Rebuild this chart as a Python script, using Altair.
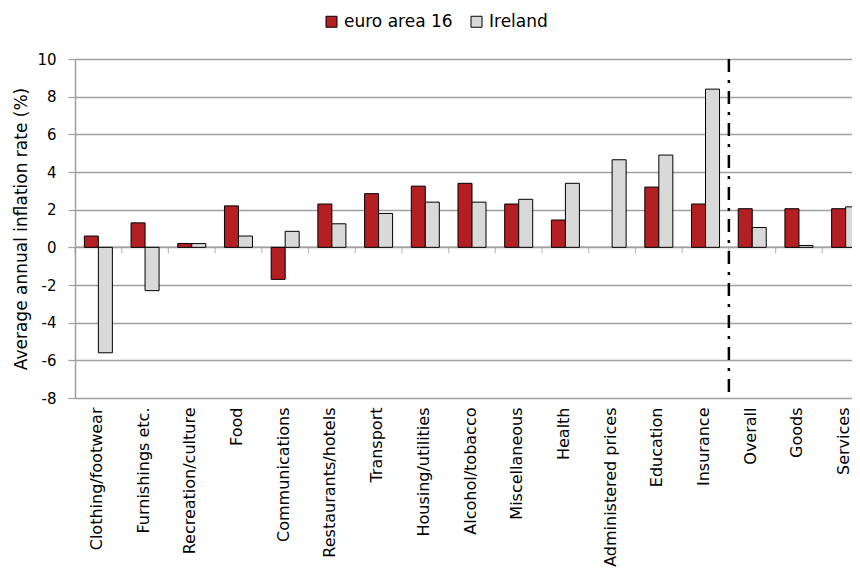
import altair as alt
import pandas as pd

categories = ["Clothing/footwear", "Furnishings etc.", "Recreation/culture", "Food",
              "Communications", "Restaurants/hotels", "Transport", "Housing/utilities",
              "Alcohol/tobacco", "Miscellaneous", "Health", "Administered prices",
              "Education", "Insurance", "Overall", "Goods", "Services"]
series = ["euro area 16", "Ireland"]
euro_area = [0.6, 1.3, 0.2, 2.2, -1.7, 2.3, 2.85, 3.25, 3.4, 2.3, 1.45, None,
             3.2, 2.3, 2.05, 2.05, 2.05]
ireland = [-5.6, -2.3, 0.2, 0.6, 0.85, 1.25, 1.8, 2.4, 2.4, 2.55, 3.4, 4.65,
           4.9, 8.4, 1.05, 0.1, 2.15]
y_ticks = [-8, -6, -4, -2, 0, 2, 4, 6, 8, 10]
divider_at = ["Overall"]

rows = []
for c, e, i in zip(categories, euro_area, ireland):
    if e is not None:
        rows.append({"category": c, "series": series[0], "value": e})
    rows.append({"category": c, "series": series[1], "value": i})
df = pd.DataFrame(rows)

FONT = "DejaVu Sans"
GRAY = "#a0a0a0"
Y_TITLE = "Average annual inflation rate (%)"

# the category scale runs a little past the visible right edge, as in the original
xscale = alt.Scale(domain=categories, paddingInner=0, paddingOuter=0, range=[0, 794])
yscale = alt.Scale(domain=[-8, 10], nice=False)


def y_axis():
    return alt.Axis(values=y_ticks, tickCount=len(y_ticks), labelExpr="'' + datum.value",
                    title=Y_TITLE, grid=True, gridColor=GRAY, gridWidth=1.5, labelOverlap=False,
                    domainColor=GRAY, domainWidth=1.5, tickColor=GRAY, tickSize=7,
                    tickWidth=1.2, labelPadding=12, labelFontSize=15, labelColor="black",
                    labelFont=FONT, titleFont=FONT, titleFontSize=17,
                    titleFontWeight="normal", titleColor="black", titlePadding=6)


def x_axis():
    return alt.Axis(title=None, labelAngle=-90, domain=False, ticks=False, grid=False,
                    labelPadding=9, labelFontSize=16, labelAlign="right", labelOffset=-1.5,
                    labelBaseline="middle", labelColor="black", labelFont=FONT,
                    labelLimit=300, labelOverlap=False)


zero_line = alt.Chart(pd.DataFrame({"z": [0]})).mark_rule(color=GRAY, strokeWidth=1.5).encode(
    y=alt.Y("z:Q", scale=yscale, title=Y_TITLE, axis=y_axis())
)

cat_ticks = alt.Chart(pd.DataFrame({"c": categories, "z": [0] * len(categories)})).mark_tick(
    orient="vertical", size=6, yOffset=3, color=GRAY, thickness=1.2
).encode(
    x=alt.X("c:N", scale=xscale, bandPosition=0, title=None, axis=x_axis()),
    y=alt.Y("z:Q", scale=yscale, title=Y_TITLE, axis=y_axis()),
)

bars = alt.Chart(df).mark_bar(stroke="black", strokeWidth=1).encode(
    x=alt.X("category:N", scale=xscale, title=None, axis=x_axis()),
    xOffset=alt.XOffset("series:N", scale=alt.Scale(domain=series, paddingInner=0, paddingOuter=0.667)),
    y=alt.Y("value:Q", scale=yscale, title=Y_TITLE, axis=y_axis()),
    color=alt.Color("series:N", scale=alt.Scale(domain=series, range=["#b41f24", "#d9d9d9"]),
                    legend=alt.Legend(title=None, orient="none", legendX=248, legendY=-46,
                                      direction="horizontal", symbolType="square",
                                      symbolSize=121, symbolStrokeColor="black",
                                      symbolStrokeWidth=1, labelFontSize=17, labelFont=FONT,
                                      labelColor="black", columnPadding=15, labelOffset=4)),
)

divider = alt.Chart(pd.DataFrame({"c": divider_at})).mark_rule(
    color="black", strokeWidth=2.5, strokeDash=[13, 8, 3, 8]
).encode(
    x=alt.X("c:N", scale=xscale, bandPosition=0, title=None, axis=x_axis())
)

chart = alt.layer(zero_line, cat_ticks, bars, divider).properties(
    width=777, height=339,
    autosize=alt.AutoSizeParams(type="none"),
    padding={"left": 67, "top": 51, "right": 0, "bottom": 180},
).configure_view(strokeWidth=0).configure(font=FONT).configure_axisY(tickCount=len(y_ticks))

chart.save("out.html", embed_options={"renderer": "svg", "actions": False})
